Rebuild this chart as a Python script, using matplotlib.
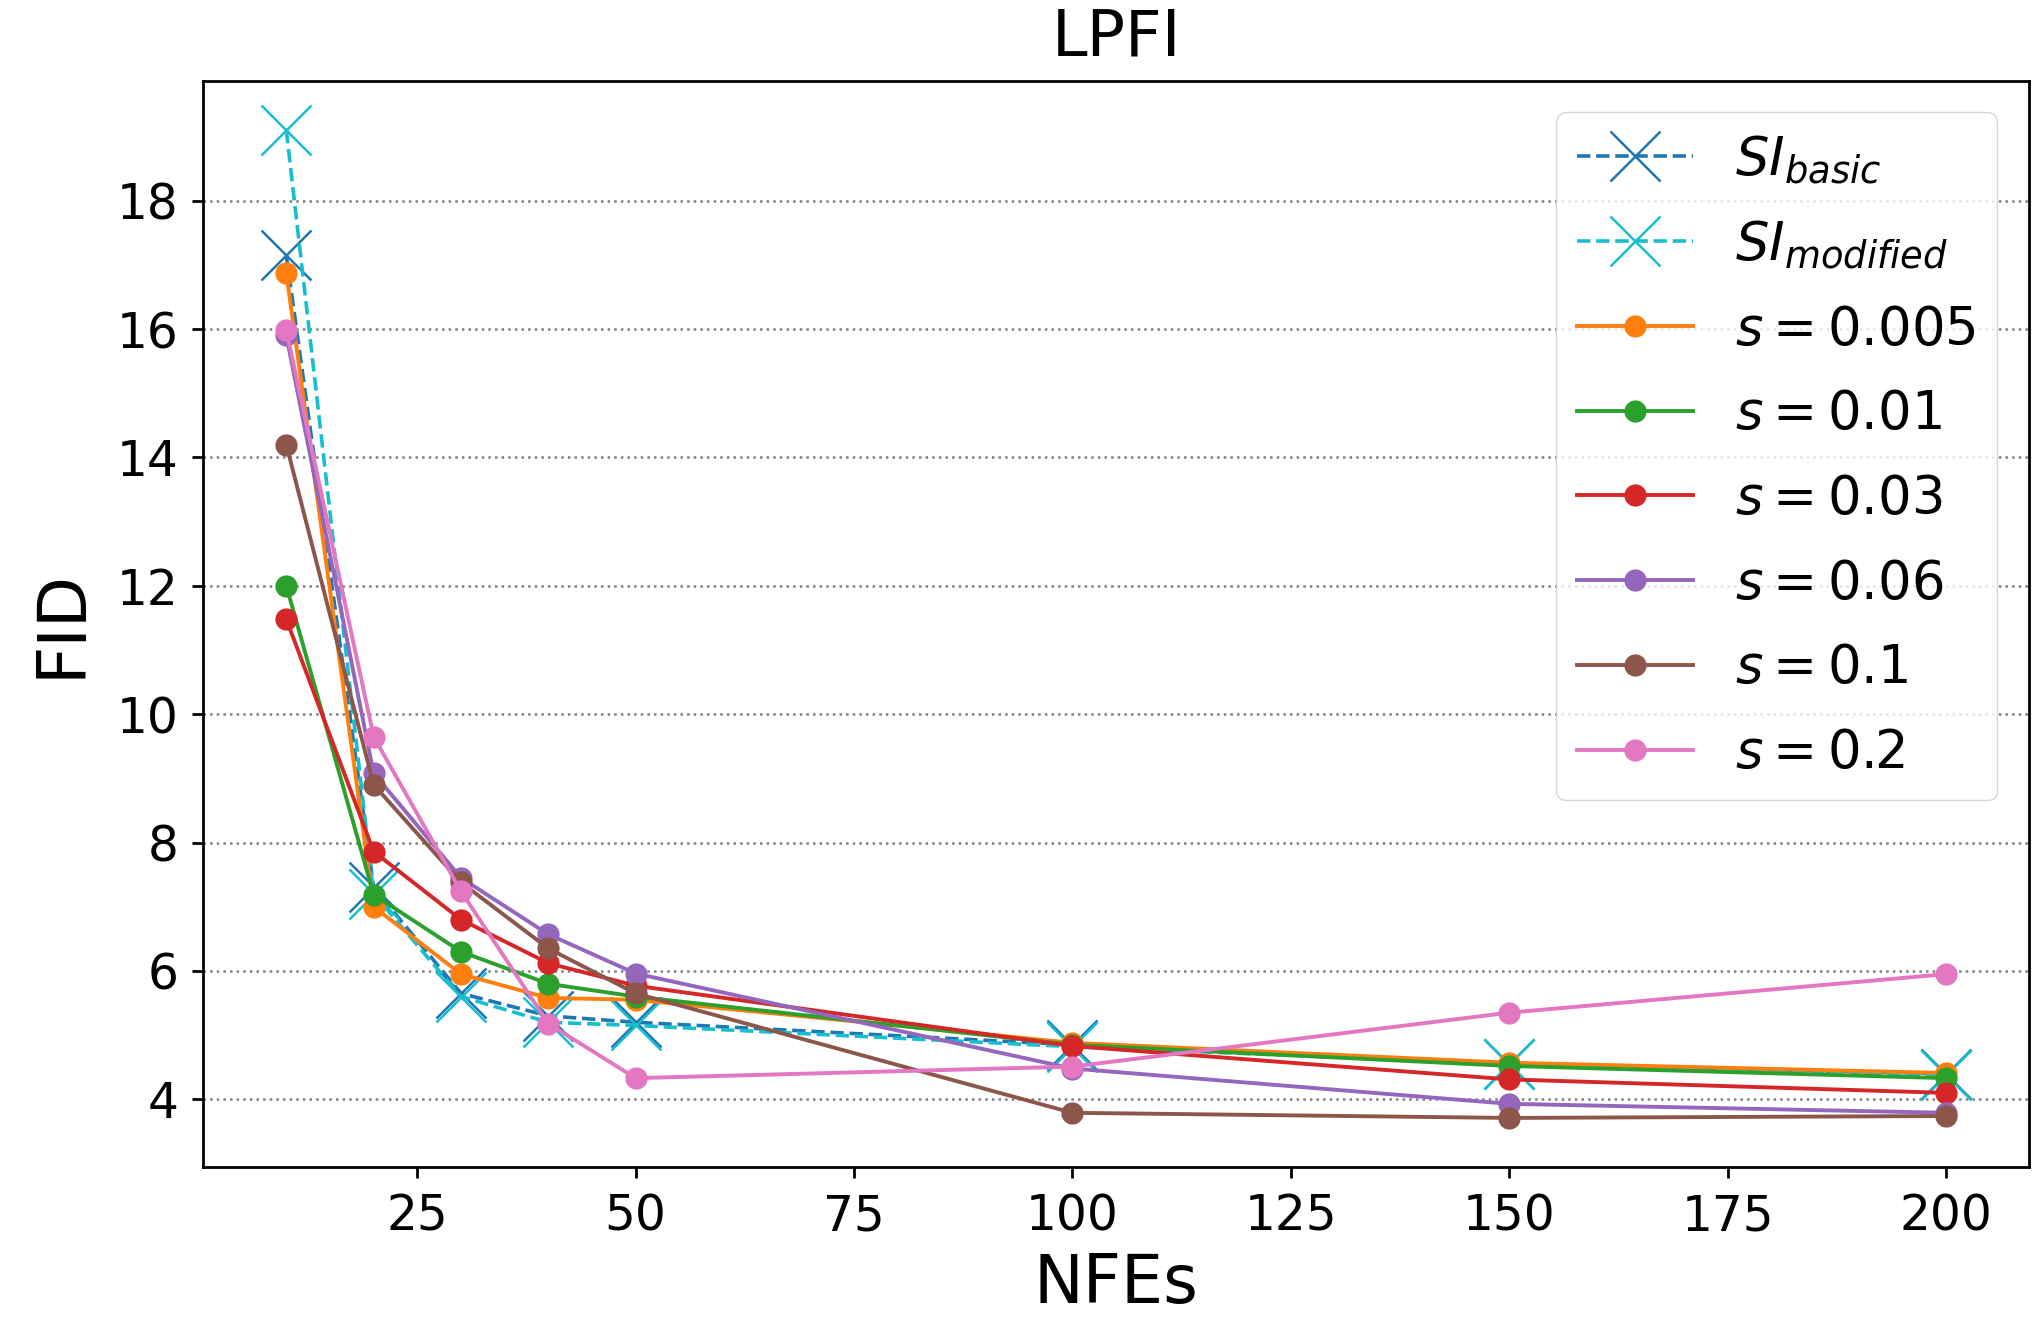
import matplotlib
matplotlib.use('agg')
import matplotlib.pyplot as plt

# NFE steps
nfes = [10, 20, 30, 40, 50, 100, 150, 200]

# baselines
si_basic = [17.15, 7.3, 5.65, 5.3, 5.2, 4.85, 4.55, 4.4]
si_modified = [19.1, 7.2, 5.6, 5.2, 5.15, 4.82, 4.55, 4.38]

# LPFI runs for different s
s_labels = ['0.005', '0.01', '0.03', '0.06', '0.1', '0.2']
s_005 = [16.87, 7.0, 5.95, 5.58, 5.55, 4.88, 4.57, 4.41]
s_01 = [12.0, 7.19, 6.3, 5.8, 5.6, 4.85, 4.52, 4.33]
s_03 = [11.48, 7.86, 6.8, 6.12, 5.77, 4.83, 4.31, 4.1]
s_06 = [15.9, 9.08, 7.45, 6.57, 5.96, 4.48, 3.93, 3.79]
s_1 = [14.2, 8.9, 7.38, 6.35, 5.65, 3.79, 3.71, 3.74]
s_2 = [15.98, 9.65, 7.24, 5.18, 4.33, 4.51, 5.35, 5.95]
s_colors = ['tab:orange', 'tab:green', 'tab:red', 'tab:purple', 'tab:brown', 'tab:pink']

fig = plt.figure(figsize=(20.33, 13.22), dpi=100)
ax = fig.add_axes([0.100, 0.117, 0.898, 0.822])

ax.plot(nfes, si_basic, '--x', color='tab:blue', lw=2.6, ms=36, mew=1.8,
        label=r'$SI_{basic}$')
ax.plot(nfes, si_modified, '--x', color='tab:cyan', lw=2.6, ms=36, mew=1.8,
        label=r'$SI_{modified}$')

all_s = [s_005, s_01, s_03, s_06, s_1, s_2]
for vals, lab, c in zip(all_s, s_labels, s_colors):
    ax.plot(nfes, vals, '-o', color=c, lw=2.8, ms=15, label=r'$s = %s$' % lab)

ax.yaxis.grid(True, linestyle=':', color='gray', lw=1.8)
ax.set_title('LPFI', fontsize=46, pad=18)
ax.set_xlabel('NFEs', fontsize=48, labelpad=8)
ax.set_ylabel('FID', fontsize=48, labelpad=16)
ax.tick_params(labelsize=35, width=2, length=8, pad=10)
for sp in ax.spines.values():
    sp.set_linewidth(2)

ax.legend(loc='upper right', fontsize=38, handlelength=2.2, labelspacing=0.62,
          borderaxespad=0.6)

fig.savefig('out.png', dpi=100)
